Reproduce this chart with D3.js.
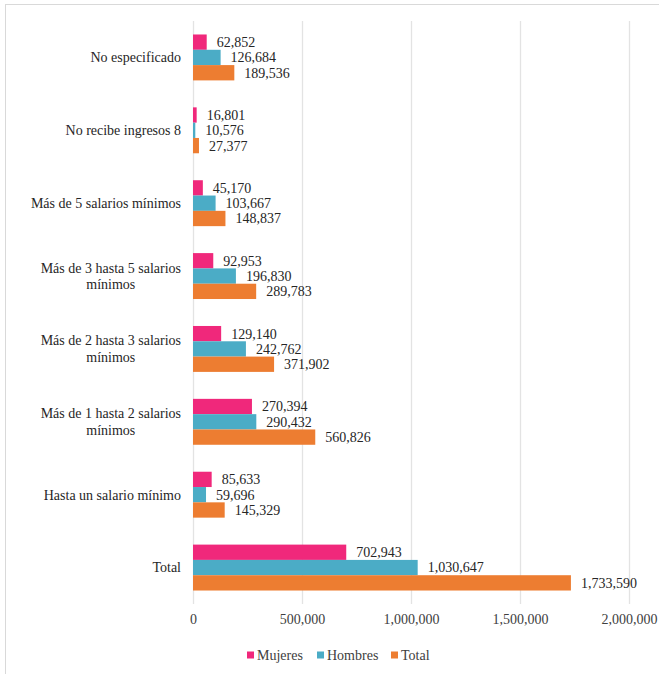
<!DOCTYPE html>
<html lang="es">
<head>
<meta charset="UTF-8">
<title>Ingresos</title>
<script src="https://d3js.org/d3.v7.min.js"></script>
<style>
    body { margin: 0; background: #fff; overflow: hidden; }
</style>
</head>
<body>
<div id="chart"></div>
<script>
// categories, top to bottom
var categories = [
    "No especificado",
    "No recibe ingresos 8",
    "Más de 5 salarios mínimos",
    "Más de 3 hasta 5 salarios mínimos",
    "Más de 2 hasta 3 salarios mínimos",
    "Más de 1 hasta 2 salarios mínimos",
    "Hasta un salario mínimo",
    "Total"
];
// label lines (wrapped like the original)
var labelLines = [
    ["No especificado"],
    ["No recibe ingresos 8"],
    ["Más de 5 salarios mínimos"],
    ["Más de 3 hasta 5 salarios", "mínimos"],
    ["Más de 2 hasta 3 salarios", "mínimos"],
    ["Más de 1 hasta 2 salarios", "mínimos"],
    ["Hasta un salario mínimo"],
    ["Total"]
];
var series = ["Mujeres", "Hombres", "Total"];
var mujeres = [62852, 16801, 45170, 92953, 129140, 270394, 85633, 702943];
var hombres = [126684, 10576, 103667, 196830, 242762, 290432, 59696, 1030647];
var total   = [189536, 27377, 148837, 289783, 371902, 560826, 145329, 1733590];
var ticks = [0, 500000, 1000000, 1500000, 2000000];
var colors = ["#f0287b", "#4bacc6", "#ed7d31"];

var width = 659, height = 674;
var values = [mujeres, hombres, total];
var serif = "'Liberation Serif'";

var svg = d3.select("#chart").append("svg")
    .attr("width", width)
    .attr("height", height);

// chart frame
svg.append("rect")
    .attr("x", 5.5).attr("y", 4.5)
    .attr("width", 700).attr("height", 700)
    .attr("fill", "none")
    .attr("stroke", "#d9d9d9");

var x = d3.scaleLinear().domain([0, 2000000]).range([193, 629]);
var y = d3.scaleBand().domain(categories).range([21, 604])
    .paddingInner(0.37).paddingOuter(0.185);
var ySub = d3.scaleBand().domain(series).range([0, y.bandwidth()]);

var fmt = d3.format(",");

// gridlines
svg.append("g").selectAll("line")
    .data(ticks)
    .join("line")
    .attr("x1", d => x(d) + 0.5).attr("x2", d => x(d) + 0.5)
    .attr("y1", 21).attr("y2", 604)
    .attr("stroke", "#e3e3e3")
    .attr("stroke-width", 1.3);

// x axis labels
var xAxis = d3.axisBottom(x).tickValues(ticks).tickFormat(fmt).tickSize(0).tickPadding(0);
var ax = svg.append("g").attr("transform", "translate(0,614)").call(xAxis);
ax.select(".domain").remove();
ax.selectAll("text")
    .style("font-family", serif)
    .style("font-size", "14px")
    .style("fill", "#404040");

// bars
var groups = svg.append("g").selectAll("g")
    .data(categories)
    .join("g")
    .attr("transform", d => "translate(0," + y(d) + ")");

series.forEach(function(s, si) {
    groups.append("rect")
        .attr("x", x(0))
        .attr("y", ySub(s))
        .attr("width", (d, i) => x(values[si][i]) - x(0))
        .attr("height", ySub.bandwidth())
        .attr("fill", colors[si]);

    groups.append("text")
        .attr("x", (d, i) => x(values[si][i]) + 10)
        .attr("y", ySub(s) + ySub.bandwidth() / 2)
        .attr("dy", "0.35em")
        .style("font-family", serif)
        .style("font-size", "14px")
        .style("fill", "#262626")
        .text((d, i) => fmt(values[si][i]));
});

// category labels
var labels = svg.append("g").selectAll("text")
    .data(categories)
    .join("text")
    .style("font-family", serif)
    .style("font-size", "14px")
    .style("fill", "#262626")
    .attr("text-anchor", "middle")
    .attr("y", d => y(d) + y.bandwidth() / 2);

labels.each(function(d, i) {
    var lines = labelLines[i];
    var t = d3.select(this);
    // centre a wrapped label block against its right edge
    var w = 0;
    lines.forEach(function(l) {
        var tmp = svg.append("text").style("font-family", serif).style("font-size", "14px").text(l);
        w = Math.max(w, tmp.node().getComputedTextLength());
        tmp.remove();
    });
    var cx = 181 - w / 2;
    lines.forEach(function(l, li) {
        t.append("tspan")
            .attr("x", cx)
            .attr("dy", li === 0 ? (0.35 - (lines.length - 1) * 0.6) + "em" : "1.2em")
            .text(l);
    });
});

// legend
var legendX = [247, 317, 391];
var lg = svg.append("g").selectAll("g")
    .data(series)
    .join("g")
    .attr("transform", (d, i) => "translate(" + legendX[i] + ",655)");
lg.append("rect")
    .attr("x", 0).attr("y", -3.5)
    .attr("width", 7).attr("height", 7)
    .attr("fill", (d, i) => colors[i]);
lg.append("text")
    .attr("x", 10)
    .attr("dy", "0.35em")
    .style("font-family", serif)
    .style("font-size", "14px")
    .style("fill", "#404040")
    .text(d => d);
</script>
</body>
</html>
